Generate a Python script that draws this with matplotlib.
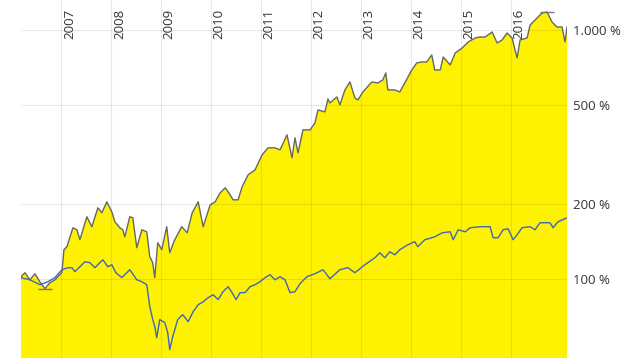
import matplotlib
matplotlib.use("Agg")
import matplotlib.pyplot as plt
import matplotlib.transforms as mtransforms
from matplotlib.ticker import FixedLocator, NullLocator

# fund (gray line, yellow area), values in % of start, time in decimal years
fund_t = [2006.19, 2006.27, 2006.37, 2006.47, 2006.57, 2006.67, 2006.77, 2006.87,
          2007.01, 2007.05, 2007.11, 2007.23, 2007.31, 2007.37, 2007.51, 2007.61,
          2007.73, 2007.81, 2007.91, 2008.01, 2008.07, 2008.17, 2008.23, 2008.27,
          2008.37, 2008.43, 2008.51, 2008.61, 2008.71, 2008.77, 2008.83, 2008.87,
          2008.93, 2009.01, 2009.11, 2009.17, 2009.27, 2009.41, 2009.52, 2009.62,
          2009.74, 2009.84, 2009.98, 2010.08, 2010.18, 2010.28, 2010.34, 2010.44,
          2010.54, 2010.62, 2010.74, 2010.88, 2011.02, 2011.14, 2011.28, 2011.38,
          2011.52, 2011.62, 2011.68, 2011.74, 2011.84, 2011.98, 2012.08, 2012.14,
          2012.28, 2012.34, 2012.38, 2012.52, 2012.58, 2012.68, 2012.78, 2012.88,
          2012.94, 2013.04, 2013.22, 2013.34, 2013.44, 2013.50, 2013.54, 2013.68,
          2013.78, 2013.88, 2014.02, 2014.12, 2014.22, 2014.32, 2014.42, 2014.48,
          2014.59, 2014.65, 2014.79, 2014.89, 2015.03, 2015.15, 2015.29, 2015.39,
          2015.49, 2015.63, 2015.73, 2015.83, 2015.93, 2016.03, 2016.13, 2016.19,
          2016.33, 2016.39, 2016.49, 2016.63, 2016.73, 2016.83, 2016.93, 2017.03,
          2017.09, 2017.13]
fund_v = [102, 105.7, 99, 104.7, 97, 91.2, 96.4, 99,
          106, 130.8, 134.5, 160.3, 157.3, 143.4, 177.4, 161.8,
          192.8, 184.1, 203.8, 185.8, 169.4, 160.3, 157.3, 147.4,
          177.4, 175.8, 133.2, 157.3, 154.4, 122.6, 116, 101,
          139.5, 130.8, 161.8, 127.2, 143.4, 161.8, 153, 184.1,
          203.8, 161.8, 198.2, 203.8, 221.4, 232, 223.6, 207.6,
          207.6, 234.2, 261.6, 274, 314.8, 335.9, 335.9, 329.7,
          378.7, 306.2, 368.4, 320.6, 396.6, 396.6, 423.1, 477.1,
          468.4, 528.3, 509, 538.2, 500, 574.1, 618.2, 533.3,
          523.4, 563.6, 618.2, 612.5, 629.8, 672, 574.1, 574.1,
          563.6, 612.5, 690.9, 737, 743.8, 743.8, 793.7, 690.9,
          690.9, 779.2, 723.5, 808.5, 846.8, 894.9, 928.6, 937.2,
          937.2, 981.7, 886.7, 911.6, 972.7, 928.6, 772, 911.6,
          928.6, 1047, 1097, 1170, 1181, 1077, 1028, 1028,
          894.9, 1028]

# benchmark (blue line)
bench_t = [2006.19, 2006.37, 2006.57, 2006.73, 2006.87, 2007.01, 2007.13, 2007.21,
           2007.27, 2007.37, 2007.47, 2007.57, 2007.67, 2007.77, 2007.83, 2007.93,
           2008.01, 2008.09, 2008.21, 2008.37, 2008.51, 2008.61, 2008.71, 2008.77,
           2008.83, 2008.87, 2008.91, 2008.97, 2009.07, 2009.13, 2009.17, 2009.23,
           2009.33, 2009.43, 2009.54, 2009.64, 2009.74, 2009.84, 2009.94, 2010.04,
           2010.14, 2010.24, 2010.34, 2010.42, 2010.50, 2010.58, 2010.68, 2010.78,
           2010.88, 2010.98, 2011.08, 2011.18, 2011.28, 2011.38, 2011.48, 2011.58,
           2011.68, 2011.78, 2011.92, 2012.08, 2012.24, 2012.38, 2012.58, 2012.74,
           2012.88, 2013.08, 2013.28, 2013.38, 2013.48, 2013.58, 2013.68, 2013.78,
           2013.94, 2014.08, 2014.14, 2014.28, 2014.48, 2014.63, 2014.79, 2014.85,
           2014.95, 2015.09, 2015.19, 2015.39, 2015.59, 2015.65, 2015.75, 2015.85,
           2015.95, 2016.05, 2016.13, 2016.23, 2016.39, 2016.49, 2016.59, 2016.79,
           2016.85, 2016.95, 2017.13]
bench_v = [101, 99, 94.6, 97.3, 101, 108.7, 110.7, 110.7,
           106.7, 111.7, 117, 116, 110.7, 116, 119.2, 111.7,
           113.8, 105.7, 101, 108.7, 99, 97.3, 94.6, 77.2,
           68.5, 64.2, 57.9, 68.5, 66.6, 60.7, 51.9, 58.5,
           68.5, 71.7, 67.2, 73.7, 78.6, 80.8, 83.9, 86.2,
           82.4, 88.7, 92.9, 87.9, 82.4, 87.9, 87.9, 92.9,
           94.6, 97.3, 101, 103.8, 99, 101.9, 99, 87.9,
           88.7, 95.5, 101.9, 104.7, 108.7, 100, 108.7, 110.7,
           105.7, 113.8, 121.4, 127.2, 121.4, 128.3, 124.8, 130.8,
           136.9, 140.8, 134.5, 143.4, 147.4, 153, 154.4, 143.4,
           157.3, 154.4, 160.3, 161.8, 161.8, 146.1, 146.1, 157.3,
           158.8, 143.4, 150.2, 160.3, 161.8, 157.3, 167.9, 167.9,
           160.3, 169.4, 175.8]

years = list(range(2007, 2017))
y_ticks = [100, 200, 500, 1000]
y_labels = ["100 %", "200 %", "500 %", "1.000 %"]

plt.rcParams["font.family"] = ["Open Sans", "DejaVu Sans"]

fig = plt.figure(figsize=(6.25, 3.62), dpi=100)
ax = fig.add_axes([21 / 625, 4 / 362, 546 / 625, 358 / 362])

ax.fill_between(fund_t, fund_v, 1, color="#fff200", linewidth=0, zorder=0.5)
ax.plot(fund_t, fund_v, color="#666666", linewidth=1.0, zorder=2)
ax.plot(bench_t, bench_v, color="#3d68b4", linewidth=1.0, zorder=3)

# small markers at low / high of the fund
i_lo = fund_v.index(min(fund_v[:10]))
i_hi = fund_v.index(max(fund_v))
ax.plot([fund_t[i_lo]], [fund_v[i_lo]], marker="_", markersize=10, color="#777777", zorder=2)
ax.plot([fund_t[i_hi]], [fund_v[i_hi]], marker="_", markersize=10, color="#777777", zorder=2)

ax.set_yscale("log")
ax.set_xlim(fund_t[0], fund_t[-1])
ax.set_ylim(48, 1320)

ax.yaxis.set_major_locator(FixedLocator(y_ticks))
ax.yaxis.set_minor_locator(NullLocator())
ax.set_yticklabels(y_labels)
ax.yaxis.tick_right()
ax.tick_params(axis="y", length=0, pad=4, labelsize=9.5, labelcolor="#333333")

ax.xaxis.set_major_locator(FixedLocator(years))
ax.xaxis.set_minor_locator(NullLocator())
ax.tick_params(axis="x", length=0, labelbottom=False)

ax.set_axisbelow("line")
ax.grid(True, color="black", alpha=0.09, linewidth=0.8)
for s in ax.spines.values():
    s.set_visible(False)

trans = mtransforms.blended_transform_factory(ax.transData, ax.transAxes)
for yr in years:
    ax.text(yr + 0.03, 0.975, str(yr), transform=trans, rotation=90,
            ha="left", va="top", fontsize=9.5, color="#333333")

fig.savefig("out.png", dpi=100)
